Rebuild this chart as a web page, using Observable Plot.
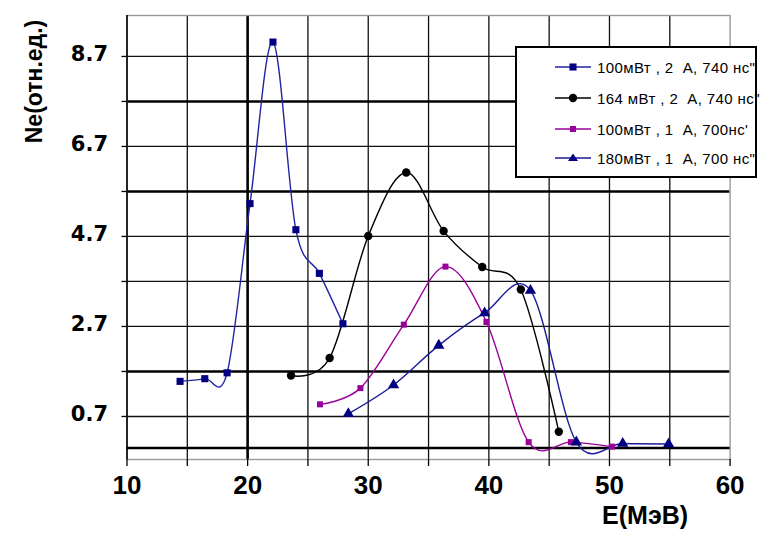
<!DOCTYPE html>
<html>
<head>
<meta charset="utf-8">
<script src="https://cdn.jsdelivr.net/npm/d3@7"></script>
<script src="https://cdn.jsdelivr.net/npm/@observablehq/plot@0.6"></script>
<style>
  body { margin: 0; background: #fff; }
  #wrap { position: relative; width: 763px; height: 538px; overflow: hidden; background: #fff; }
  #wrap > svg { position: absolute; left: 0; top: 0; }
  #legend { position: absolute; left: 515px; top: 46px; width: 238px; height: 128px;
            border: 2px solid #000; background: #fff;
            font-family: "Liberation Sans", Arial, sans-serif; font-size: 15px; color: #000; }
  .row { position: absolute; left: 0; height: 20px; display: flex; align-items: center; white-space: pre; letter-spacing: 0.4px; }
  .row svg { position: static; display: block; margin-left: 38px; margin-right: 6px; flex: none; }
</style>
</head>
<body>
<div id="wrap"></div>
<script>
// ---- data ----
const xTickLabels = [10, 20, 30, 40, 50, 60];
const xTickMarks = [10, 15, 20, 25, 30, 35, 40, 45, 50, 55, 60];
const xGrid = [15, 20, 25, 30, 35, 40, 45, 50, 55];
const xGridThick = [20];
const yTickLabels = [0.7, 2.7, 4.7, 6.7, 8.7];
const yGrid = [0.7, 1.7, 2.7, 3.7, 4.7, 5.7, 6.7, 7.7, 8.7];
const yGridThick = [1.7, 5.7, 7.7];
const yBase = [0];

const seriesNames = [
  "100мВт , 2  А, 740 нс\"",
  "164 мВт , 2  А, 740 нс\"",
  "100мВт , 1  А, 700нс'",
  "180мВт , 1  А, 700 нс\""
];
const s1E = [14.4, 16.45, 18.3, 20.2, 22.1, 24.0, 25.95, 27.9];
const s1N = [1.48, 1.54, 1.67, 5.43, 9.02, 4.85, 3.88, 2.76];
const s2E = [23.6, 26.8, 30.0, 33.15, 36.25, 39.45, 42.65, 45.8];
const s2N = [1.61, 2.00, 4.71, 6.12, 4.82, 4.02, 3.52, 0.36];
const s3E = [26.0, 29.35, 32.95, 36.4, 39.8, 43.3, 46.8, 50.2];
const s3N = [0.97, 1.33, 2.74, 4.03, 2.80, 0.13, 0.13, 0.03];
const s4E = [28.35, 32.1, 35.85, 39.65, 43.45, 47.25, 51.1, 54.9];
const s4N = [0.76, 1.40, 2.28, 3.00, 3.50, 0.13, 0.10, 0.09];

const xTitle = "E(МэВ)";
const yTitle = "Ne(отн.ед.)";

// ---- styles ----
const styles = [
  {line: "#2323a3", fill: "#000080", symbol: "square", r: 4.0},
  {line: "#000000", fill: "#000000", symbol: "circle", r: 4.2},
  {line: "#990099", fill: "#990099", symbol: "square", r: 3.4},
  {line: "#1a1a9a", fill: "#000080", symbol: "triangle", r: 4.2}
];

const toRows = (E, N) => E.map((e, i) => ({E: e, N: N[i]}));
const series = [toRows(s1E, s1N), toRows(s2E, s2N), toRows(s3E, s3N), toRows(s4E, s4N)];

const marks = [
  Plot.ruleX(xGrid.filter(d => !xGridThick.includes(d)), {x: d => d, stroke: "#111", strokeWidth: 1.3}),
  Plot.ruleX(xGridThick, {x: d => d, stroke: "#000", strokeWidth: 2.6}),
  Plot.ruleY(yGrid.filter(d => !yGridThick.includes(d)), {y: d => d, stroke: "#111", strokeWidth: 1.3}),
  Plot.ruleY(yGridThick, {y: d => d, stroke: "#000", strokeWidth: 2.4}),
  Plot.frame({stroke: "#999", strokeWidth: 1.4}),
  Plot.ruleY(yBase, {y: d => d, stroke: "#000", strokeWidth: 2.6}),
  Plot.ruleX([xTickMarks[0]], {x: d => d, stroke: "#000", strokeWidth: 1.6}),
  Plot.axisX(xTickMarks, {tickSize: 7, tickFormat: () => "", label: null, stroke: "#000", strokeWidth: 1.3}),
  Plot.axisY(yGrid, {tickSize: 5, tickFormat: () => "", label: null, stroke: "#000", strokeWidth: 1.3}),
  Plot.text(xTickLabels, {x: d => d, frameAnchor: "bottom", dy: 34, text: d => String(d),
    fontSize: 26, fontWeight: "bold", fontFamily: "Liberation Sans", fill: "#000"}),
  Plot.text(yTickLabels, {y: d => d, frameAnchor: "left", dx: -19, dy: -2, textAnchor: "end",
    text: d => d.toFixed(1), fontSize: 21, fontWeight: "bold", fontFamily: "DejaVu Sans", fill: "#000"}),
  Plot.text([xTitle], {frameAnchor: "bottom-right", dx: -85, dy: 64, textAnchor: "middle", text: d => d,
    fontSize: 25, fontWeight: "bold", fontFamily: "Liberation Sans", fill: "#000"}),
  Plot.text([yTitle], {frameAnchor: "top-left", dx: -101, dy: 66, rotate: -90, textAnchor: "middle", text: d => d,
    fontSize: 23, fontWeight: "bold", fontFamily: "Liberation Sans", fill: "#000"})
];

series.forEach((data, i) => {
  const s = styles[i];
  marks.push(Plot.line(data, {x: "E", y: "N", stroke: s.line, strokeWidth: 1.4, curve: "cardinal", tension: 0}));
});
series.forEach((data, i) => {
  const s = styles[i];
  marks.push(Plot.dot(data, {x: "E", y: "N", symbol: s.symbol, r: s.r, fill: s.fill, stroke: "none"}));
});

const chart = Plot.plot({
  width: 763,
  height: 538,
  marginLeft: 126.5,
  marginRight: 33.4,
  marginTop: 15,
  marginBottom: 79,
  x: {domain: [10, 60], axis: null, label: null},
  y: {domain: [-0.256, 9.61], axis: null, label: null},
  style: {background: "#fff", color: "#000", fontFamily: "Liberation Sans, Arial, sans-serif"},
  marks
});

const wrap = document.getElementById("wrap");
wrap.appendChild(chart);

// ---- legend (HTML overlay) ----
const legend = document.createElement("div");
legend.id = "legend";
const rowCenters = [19, 50, 81, 110];
seriesNames.forEach((name, i) => {
  const s = styles[i];
  const row = document.createElement("div");
  row.className = "row";
  row.style.top = (rowCenters[i] - 10) + "px";
  let marker;
  if (s.symbol === "square") {
    const a = s.r * 1.77;
    marker = `<rect x="${18 - a / 2}" y="${7 - a / 2}" width="${a}" height="${a}" fill="${s.fill}"/>`;
  } else if (s.symbol === "circle") {
    marker = `<circle cx="18" cy="7" r="${s.r}" fill="${s.fill}"/>`;
  } else {
    marker = `<path d="M18,2.5 L23,10 L13,10 Z" fill="${s.fill}"/>`;
  }
  row.innerHTML = `<svg width="36" height="14"><line x1="0" y1="7" x2="36" y2="7" stroke="${s.line}" stroke-width="1.4"/>${marker}</svg><span>${name.replace(/&/g,"&amp;").replace(/</g,"&lt;")}</span>`;
  legend.appendChild(row);
});
wrap.appendChild(legend);
</script>
</body>
</html>
